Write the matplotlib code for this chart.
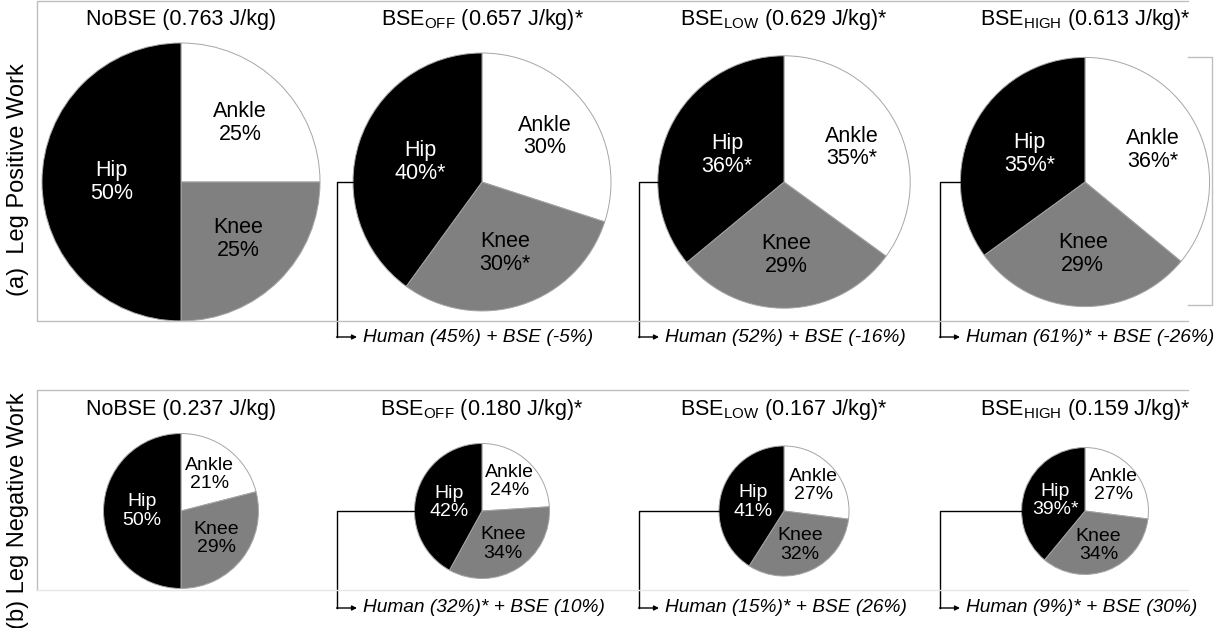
import numpy as np
import matplotlib
matplotlib.use('Agg')
import matplotlib.pyplot as plt

plt.rcParams['font.family'] = ['Liberation Sans', 'DejaVu Sans']
plt.rcParams['mathtext.fontset'] = 'custom'
plt.rcParams['mathtext.rm'] = 'Liberation Sans'
plt.rcParams['mathtext.it'] = 'Liberation Sans:italic'

# ---------------- data ----------------
conditions = ['NoBSE', r'BSE$_{\mathregular{OFF}}$', r'BSE$_{\mathregular{LOW}}$', r'BSE$_{\mathregular{HIGH}}$']
joints = ['Ankle', 'Knee', 'Hip']
joint_colors = ['white', '#808080', 'black']
joint_text_colors = ['black', 'black', 'white']

# (a) leg positive work
pos_total = [0.763, 0.657, 0.629, 0.613]
pos_total_sig = [False, True, True, True]
pos_ankle = [25, 30, 35, 36]
pos_knee = [25, 30, 29, 29]
pos_hip = [50, 40, 36, 35]
pos_ankle_sig = [False, False, True, True]
pos_knee_sig = [False, True, False, False]
pos_hip_sig = [False, True, True, True]
pos_human = [45, 52, 61]
pos_bse = [-5, -16, -26]
pos_human_sig = [False, False, True]

# (b) leg negative work
neg_total = [0.237, 0.180, 0.167, 0.159]
neg_total_sig = [False, True, True, True]
neg_ankle = [21, 24, 27, 27]
neg_knee = [29, 34, 32, 34]
neg_hip = [50, 42, 41, 39]
neg_ankle_sig = [False, False, False, False]
neg_knee_sig = [False, False, False, False]
neg_hip_sig = [False, False, False, True]
neg_human = [32, 15, 9]
neg_bse = [10, 26, 30]
neg_human_sig = [True, True, True]

# ---------------- layout (pixels, from top-left) ----------------
W, H = 1225, 628
col_x = [181, 482, 784, 1085]
R0 = 139          # radius of the largest pie (area ~ total work)
max_total = max(pos_total)
label_dist = [0.6, 0.58, 0.5]   # ankle, knee, hip

fig = plt.figure(figsize=(W / 100, H / 100), dpi=100)
ax = fig.add_axes([0, 0, 1, 1])


def star(sig):
    return '*' if sig else ''


def draw_row(totals, totals_sig, ankle, knee, hip, a_sig, k_sig, h_sig,
             human, bse, human_sig, cy, title_y, note_y, lab_fs):
    for i, cx in enumerate(col_x):
        r = R0 * np.sqrt(totals[i] / max_total)
        vals = [ankle[i], knee[i], hip[i]]
        sigs = [a_sig[i], k_sig[i], h_sig[i]]
        wedges, _ = ax.pie(vals, colors=joint_colors, startangle=90, counterclock=False,
                           center=(cx, H - cy), radius=r,
                           wedgeprops=dict(edgecolor='#a6a6a6', linewidth=0.7))
        for w, name, v, s, tc, d in zip(wedges, joints, vals, sigs, joint_text_colors, label_dist):
            ang = np.deg2rad((w.theta1 + w.theta2) / 2)
            ax.text(cx + d * r * np.cos(ang), H - cy + d * r * np.sin(ang),
                    f'{name}\n{v}%{star(s)}', ha='center', va='center',
                    fontsize=lab_fs, color=tc, linespacing=1.1)
        ax.text(cx, H - title_y, f'{conditions[i]} ({totals[i]:.3f} J/kg){star(totals_sig[i])}',
                ha='center', va='center', fontsize=15.5)
        if i == 0:
            continue
        # bracket from hip to the human/BSE split
        xb = cx - 145
        ax.plot([cx - r, xb, xb], [H - cy, H - cy, H - note_y], color='black', lw=1)
        ax.annotate('', xy=(xb + 20, H - note_y), xytext=(xb - 0.5, H - note_y),
                    arrowprops=dict(arrowstyle='-|>', color='black', lw=1,
                                    mutation_scale=7, shrinkA=0, shrinkB=0))
        ax.text(xb + 26, H - note_y,
                f'Human ({human[i-1]}%){star(human_sig[i-1])} + BSE ({bse[i-1]}%)',
                ha='left', va='center', fontsize=13.8, style='italic')


draw_row(pos_total, pos_total_sig, pos_ankle, pos_knee, pos_hip,
         pos_ankle_sig, pos_knee_sig, pos_hip_sig,
         pos_human, pos_bse, pos_human_sig, cy=182, title_y=20, note_y=337, lab_fs=15.5)
draw_row(neg_total, neg_total_sig, neg_ankle, neg_knee, neg_hip,
         neg_ankle_sig, neg_knee_sig, neg_hip_sig,
         neg_human, neg_bse, neg_human_sig, cy=511, title_y=410, note_y=608, lab_fs=14)

# frames around each row
fc = '#bfbfbf'
ax.plot([1188, 37, 37, 1188], [H - 1, H - 1, H - 321, H - 321], color=fc, lw=1)
ax.plot([1188, 1212, 1212, 1188], [H - 57, H - 57, H - 305, H - 305], color=fc, lw=1)
ax.plot([1188, 37, 37], [H - 390, H - 390, H - 590], color=fc, lw=1)
ax.plot([37, 1188], [H - 590, H - 590], color='#e6e6e6', lw=1)

# row labels
ax.text(18, H - 180, '(a)  Leg Positive Work', rotation=90, ha='center', va='center', fontsize=17)
ax.text(18, H - 511, '(b) Leg Negative Work', rotation=90, ha='center', va='center', fontsize=17)

ax.set_xlim(0, W)
ax.set_ylim(0, H)
ax.set_aspect('auto')
ax.axis('off')

fig.savefig('out.png', dpi=100, facecolor='white')
